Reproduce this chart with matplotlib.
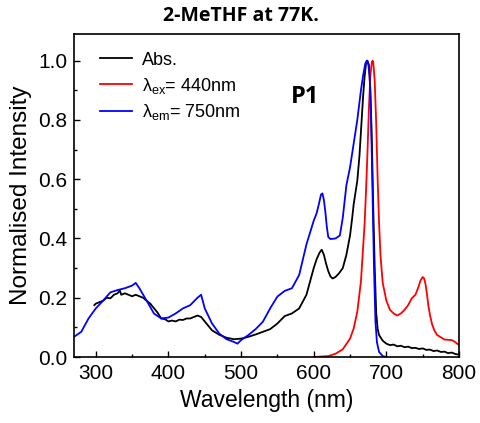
import matplotlib
matplotlib.use('Agg')
import matplotlib.pyplot as plt
import numpy as np

plt.rcParams['font.family'] = ['Liberation Sans', 'DejaVu Sans']
plt.rcParams['mathtext.fontset'] = 'custom'
plt.rcParams['mathtext.rm'] = 'Liberation Sans'
plt.rcParams['mathtext.it'] = 'Liberation Sans:italic'

# Absorption (black)
abs_x = [298, 300, 305, 310, 315, 320, 323, 325, 330, 333, 335, 340, 345, 350, 355, 360, 365, 370,
         375, 380, 385, 390, 395, 400, 405, 410, 415, 420, 425, 430, 435, 440, 445, 450, 455, 460,
         470, 480, 490, 500, 510, 520, 530, 540, 550, 560, 570, 580, 590, 600,
         604, 608, 611, 614, 617, 620, 623, 626, 630, 635, 640, 645, 650, 653, 655, 660, 663, 666,
         668, 670, 672, 674, 676, 678, 680, 682, 684, 686, 688, 690, 695,
         700, 705, 710, 715, 720, 725, 730, 735, 740, 745, 750, 755, 760, 765, 770, 775, 780, 785,
         790, 795, 800]
abs_y = [0.175, 0.18, 0.185, 0.19, 0.2, 0.198, 0.205, 0.21, 0.215, 0.225, 0.21, 0.215, 0.21, 0.205,
         0.21, 0.205, 0.2, 0.19, 0.18, 0.165, 0.15, 0.13, 0.128, 0.12, 0.123, 0.12, 0.126, 0.125,
         0.13, 0.13, 0.135, 0.14, 0.135, 0.12, 0.105, 0.09, 0.075, 0.065, 0.06, 0.062, 0.068, 0.076,
         0.085, 0.094, 0.113, 0.138, 0.147, 0.164, 0.21, 0.30,
         0.33, 0.352, 0.362, 0.345, 0.315, 0.29, 0.272, 0.265, 0.27, 0.283, 0.30, 0.345, 0.41, 0.47,
         0.515, 0.595, 0.68, 0.80, 0.88, 0.945, 0.99, 1.0, 0.985, 0.90, 0.73, 0.50, 0.30, 0.15,
         0.095, 0.074, 0.055,
         0.045, 0.04, 0.042, 0.036, 0.038, 0.033, 0.035, 0.03, 0.031, 0.027, 0.029, 0.024, 0.025,
         0.02, 0.022, 0.017, 0.018, 0.013, 0.015, 0.01, 0.008]

# Emission, excitation at 440 nm (red)
em_x = [600, 620, 630, 640, 650, 655, 660, 665, 670, 672, 674, 676, 678, 680, 681, 682, 684, 686,
        688, 690, 692, 695, 700, 705, 710, 715, 720, 725, 730, 735, 740, 744, 747, 750, 752, 754,
        756, 758, 760, 763, 766, 770, 780, 790, 795, 800]
em_y = [0.0, 0.003, 0.011, 0.026, 0.062, 0.096, 0.153, 0.255, 0.447, 0.56, 0.69, 0.84, 0.95, 0.995,
        1.0, 0.995, 0.93, 0.79, 0.60, 0.45, 0.34, 0.25, 0.19, 0.159, 0.147, 0.14, 0.147, 0.159,
        0.175, 0.198, 0.21, 0.235, 0.258, 0.27, 0.265, 0.245, 0.21, 0.17, 0.142, 0.11, 0.09, 0.074,
        0.059, 0.057, 0.05, 0.04]

# Excitation, emission at 750 nm (blue)
ex_x = [270, 280, 290, 300, 310, 320, 330, 340, 350, 355, 360, 370, 380, 390, 400, 410, 420, 430,
        440, 445, 450, 460, 470, 480, 490, 495, 500, 510, 520, 530, 540, 550, 560, 570, 580, 590,
        600, 604, 607, 610, 612, 614, 616, 618, 620, 623, 630, 636, 640, 645, 650, 655, 660, 665,
        668, 671, 673, 675, 677, 679, 681, 683, 685, 687, 690, 695, 700]
ex_y = [0.068, 0.085, 0.13, 0.164, 0.19, 0.218, 0.226, 0.232, 0.241, 0.25, 0.232, 0.19, 0.147, 0.13,
        0.133, 0.147, 0.164, 0.175, 0.20, 0.21, 0.164, 0.113, 0.079, 0.06, 0.051, 0.045, 0.057,
        0.074, 0.094, 0.119, 0.164, 0.204, 0.223, 0.232, 0.277, 0.38, 0.46, 0.485, 0.515, 0.548,
        0.552, 0.53, 0.49, 0.44, 0.405, 0.398, 0.40, 0.41, 0.47, 0.58, 0.64, 0.72, 0.80, 0.90,
        0.95, 0.99, 1.0, 0.99, 0.95, 0.80, 0.55, 0.30, 0.12, 0.05, 0.017, 0.003, 0.0]

fig = plt.figure(figsize=(4.81, 4.23), dpi=100)
ax = fig.add_axes([74 / 481, 1 - 357 / 423, (459 - 74) / 481, (357 - 34) / 423])

ax.plot(abs_x, abs_y, color='black', lw=1.3, label='Abs.')
ax.plot(em_x, em_y, color='#ff0000', lw=1.3, label=r'λ$_{\rm ex}$= 440nm')
ax.plot(ex_x, ex_y, color='#0000ff', lw=1.3, label=r'λ$_{\rm em}$= 750nm')

ax.set_xlim(270, 800)
ax.set_ylim(0, 1.09)
ax.set_xticks([300, 400, 500, 600, 700, 800])
ax.set_xticks(np.arange(300, 801, 50), minor=True)
ax.set_yticks([0.0, 0.2, 0.4, 0.6, 0.8, 1.0])
ax.set_yticks(np.arange(0, 1.01, 0.1), minor=True)
ax.set_yticklabels(['0.0', '0.2', '0.4', '0.6', '0.8', '1.0'])
ax.tick_params(which='both', direction='in', labelsize=15, width=1, pad=5)
ax.tick_params(which='major', length=4)
ax.tick_params(which='minor', length=2.5)
for s in ax.spines.values():
    s.set_linewidth(1.2)

ax.set_xlabel('Wavelength (nm)', fontsize=16.5, labelpad=4)
ax.set_ylabel('Normalised Intensity', fontsize=17.5, labelpad=4)

ax.legend(loc='upper left', bbox_to_anchor=(0.0675, 0.945), frameon=False, fontsize=13,
          borderaxespad=0, borderpad=0, handlelength=1.8, handletextpad=0.55,
          labelspacing=0.38)

ax.text(0.60, 0.805, 'P1', transform=ax.transAxes, fontsize=17, fontweight='bold',
        family='Open Sans', ha='center', va='center')
fig.text(0.5, 0.963, '2-MeTHF at 77K.', fontsize=14, fontweight='bold', family='Open Sans',
         ha='center', va='center')

fig.savefig('out.png', dpi=100)
